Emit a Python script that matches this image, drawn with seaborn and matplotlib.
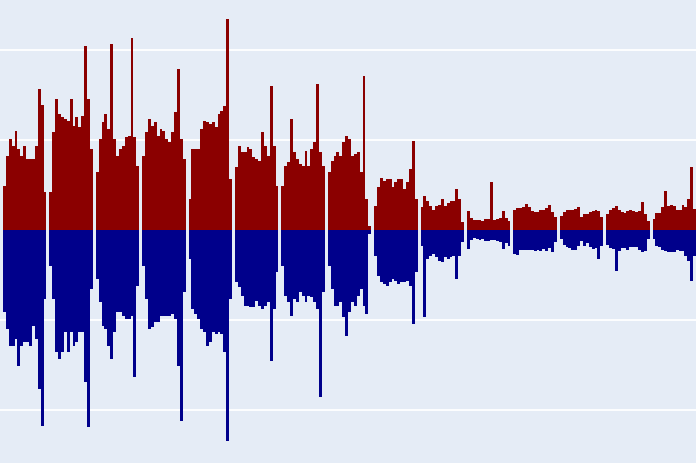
import pandas as pd
import matplotlib
matplotlib.use("Agg")
import matplotlib.pyplot as plt
import seaborn as sns

# amplitude of each burst, 15 samples per burst (upper half of the signal)
upper = [
    [44, 74, 91, 84, 99, 81, 74, 84, 71, 71, 71, 84, 141, 125, 38],
    [38, 98, 131, 116, 113, 111, 109, 131, 104, 113, 103, 114, 184, 131, 81],
    [58, 91, 108, 116, 101, 186, 91, 74, 81, 84, 93, 94, 192, 93, 64],
    [74, 98, 111, 104, 108, 94, 101, 99, 91, 88, 98, 118, 161, 91, 71],
    [31, 81, 81, 81, 101, 109, 108, 106, 108, 103, 116, 119, 124, 211, 51],
    [63, 84, 78, 78, 83, 81, 73, 71, 69, 98, 84, 74, 144, 84, 44],
    [44, 64, 68, 111, 78, 71, 66, 64, 79, 64, 81, 88, 146, 78, 64],
    [58, 69, 74, 78, 74, 88, 94, 91, 74, 76, 78, 58, 154, 31, 4],
    [24, 43, 52, 49, 51, 51, 43, 48, 51, 51, 41, 48, 61, 89, 31],
    [23, 34, 29, 24, 20, 24, 25, 31, 24, 27, 29, 29, 41, 31, 8],
    [19, 12, 10, 10, 10, 9, 11, 11, 48, 10, 11, 12, 19, 12, 9],
    [20, 22, 22, 23, 26, 23, 19, 18, 18, 20, 20, 22, 25, 18, 13],
    [14, 18, 20, 20, 20, 21, 23, 13, 16, 16, 18, 19, 20, 19, 13],
    [16, 20, 22, 24, 20, 18, 17, 19, 20, 19, 18, 19, 28, 16, 9],
    [11, 17, 17, 23, 39, 24, 25, 24, 20, 20, 25, 23, 31, 63, 21],
]

# depth of each burst below zero (lower half of the signal)
lower = [
    [82, 99, 116, 116, 109, 136, 116, 112, 112, 116, 96, 109, 159, 196, 69],
    [36, 69, 122, 129, 122, 102, 122, 102, 116, 112, 102, 102, 152, 197, 59],
    [49, 72, 96, 99, 116, 129, 102, 82, 82, 86, 89, 89, 86, 147, 56],
    [36, 69, 99, 97, 92, 92, 86, 86, 86, 86, 84, 89, 136, 191, 62],
    [29, 79, 84, 89, 99, 102, 116, 112, 102, 104, 102, 104, 122, 211, 69],
    [52, 57, 66, 76, 76, 77, 77, 71, 76, 79, 76, 72, 131, 79, 42],
    [36, 66, 72, 86, 69, 72, 62, 66, 72, 66, 67, 72, 79, 167, 62],
    [36, 59, 76, 76, 72, 87, 106, 82, 72, 76, 66, 59, 76, 84, 4],
    [26, 46, 52, 54, 56, 52, 49, 51, 54, 52, 52, 51, 56, 94, 42],
    [16, 87, 29, 26, 24, 27, 31, 32, 27, 29, 27, 26, 49, 26, 12],
    [19, 10, 8, 9, 10, 9, 11, 11, 10, 10, 11, 12, 19, 13, 16],
    [24, 25, 20, 20, 20, 20, 20, 21, 20, 21, 19, 21, 18, 22, 12],
    [9, 15, 17, 18, 20, 20, 16, 11, 16, 13, 17, 19, 18, 29, 16],
    [15, 18, 19, 41, 21, 18, 18, 20, 17, 17, 17, 20, 22, 21, 9],
    [9, 16, 17, 20, 21, 22, 22, 22, 20, 21, 21, 26, 31, 51, 26],
]

red = "#8B0000"
blue = "#00008B"
slots = 16  # 15 samples + 1 empty slot between bursts

rows = []
for k, (up, lo) in enumerate(zip(upper, lower)):
    for i, (u, l) in enumerate(zip(up, lo)):
        rows.append({"pos": k * slots + i, "up": u, "down": -l})
df = pd.DataFrame(rows)

sns.set_theme(style="darkgrid", rc={"axes.facecolor": "#E5ECF6",
                                    "grid.color": "white",
                                    "grid.linewidth": 1.3})

fig = plt.figure(figsize=(6.96, 4.64), dpi=100)
ax = fig.add_axes([0, 0, 1, 1])

sns.barplot(data=df, x="pos", y="up", native_scale=True, width=1,
            color=red, saturation=1, errorbar=None,
            linewidth=0, antialiased=False, ax=ax)
sns.barplot(data=df, x="pos", y="down", native_scale=True, width=1,
            color=blue, saturation=1, errorbar=None,
            linewidth=0, antialiased=False, ax=ax)

ax.set_xlim(-1.53, 238.5)
ax.set_ylim(-233, 231)
ax.set_yticks([-180, -90, 90, 180])
ax.set_xticks([])
ax.xaxis.grid(False)
ax.tick_params(left=False, bottom=False, labelleft=False, labelbottom=False)
ax.set_xlabel("")
ax.set_ylabel("")
for s in ax.spines.values():
    s.set_visible(False)

fig.savefig("out.png", dpi=100)
